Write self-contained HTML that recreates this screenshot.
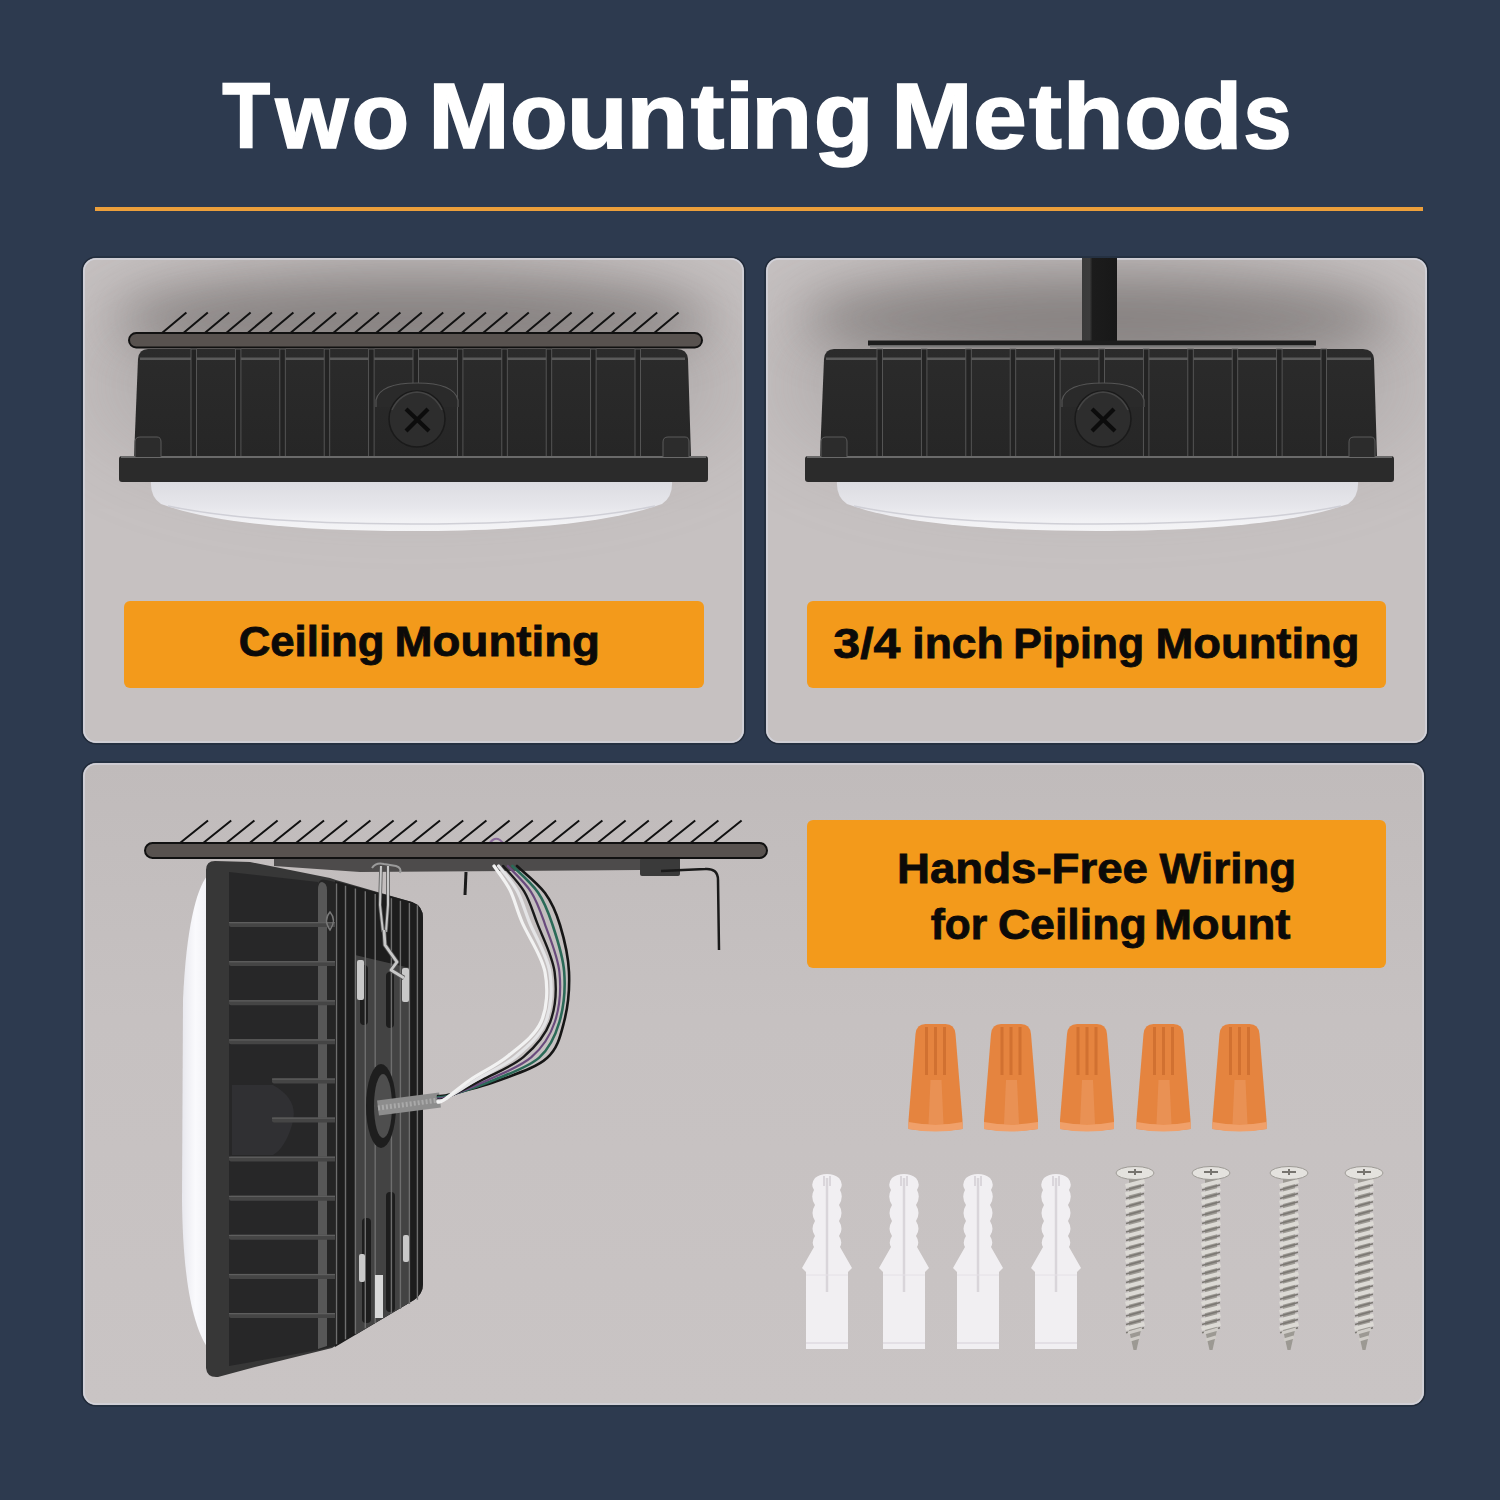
<!DOCTYPE html>
<html><head><meta charset="utf-8"><style>
html,body{margin:0;padding:0;background:#2d3a4f;width:1500px;height:1500px;overflow:hidden}
svg{display:block}
text{font-family:"Liberation Sans",sans-serif;font-weight:bold;font-kerning:none}
</style></head><body>
<svg width="1500" height="1500" viewBox="0 0 1500 1500">
<defs>
<radialGradient id="vig1" cx="0.5" cy="0.25" r="0.6">
<stop offset="0" stop-color="#8a8483"/>
<stop offset="0.45" stop-color="#a29d9c"/>
<stop offset="1" stop-color="#c5bfbf"/>
</radialGradient>
<linearGradient id="pan3" x1="0" y1="0" x2="0" y2="1">
<stop offset="0" stop-color="#c0bbbb"/>
<stop offset="0.4" stop-color="#c6c1c1"/>
<stop offset="1" stop-color="#c9c4c4"/>
</linearGradient>
<linearGradient id="diff" x1="0" y1="0" x2="0" y2="1">
<stop offset="0" stop-color="#dcdce1"/>
<stop offset="0.5" stop-color="#e6e6eb"/>
<stop offset="0.8" stop-color="#f1f1f4"/>
<stop offset="1" stop-color="#f4f4f6"/>
</linearGradient>
<linearGradient id="body" x1="0" y1="0" x2="0" y2="1">
<stop offset="0" stop-color="#2b2b2b"/>
<stop offset="1" stop-color="#262626"/>
</linearGradient>
<linearGradient id="pipe" x1="0" y1="0" x2="1" y2="0">
<stop offset="0" stop-color="#3a3a3a"/>
<stop offset="0.22" stop-color="#3c3c3c"/>
<stop offset="0.3" stop-color="#1c1c1c"/>
<stop offset="1" stop-color="#181818"/>
</linearGradient>
<linearGradient id="sidediff" x1="0" y1="0" x2="1" y2="0">
<stop offset="0" stop-color="#e8e8ee"/>
<stop offset="0.5" stop-color="#fafafd"/>
<stop offset="1" stop-color="#f0f0f4"/>
</linearGradient>
<filter id="blur2" x="-50%" y="-100%" width="200%" height="300%"><feGaussianBlur stdDeviation="26"/></filter>
<filter id="blur1" x="-50%" y="-50%" width="200%" height="200%"><feGaussianBlur stdDeviation="45"/></filter>
<clipPath id="cp1"><rect x="84" y="259" width="659" height="483" rx="12"/></clipPath>
<clipPath id="cp2"><rect x="767" y="259" width="659" height="483" rx="12"/></clipPath>
<clipPath id="finclip"><path d="M335,881 L412,902 Q423,906 423,918 L423,1284 Q423,1294 414,1300 L335,1347 Z"/></clipPath>
</defs>
<rect width="1500" height="1500" fill="#2d3a4f"/>
<!-- title -->
<g font-family="Liberation Sans" font-weight="bold" fill="#ffffff" stroke="#ffffff" stroke-width="1.6" font-size="93">
<text transform="translate(222.29,148) scale(0.8445,1)" >T</text>
<text transform="translate(275.58,148) scale(1.0055,1)" >w</text>
<text transform="translate(351.62,148) scale(1.0168,1)" >o</text>
<text transform="translate(428.30,148) scale(1.0506,1)" >M</text>
<text transform="translate(510.12,148) scale(1.0168,1)" >o</text>
<text transform="translate(566.66,148) scale(1.0750,1)" >u</text>
<text transform="translate(626.16,148) scale(1.0965,1)" >n</text>
<text transform="translate(690.63,148) scale(1.0891,1)" >t</text>
<text transform="translate(724.26,148) scale(1.1838,1)" >i</text>
<text transform="translate(751.27,148) scale(1.0750,1)" >n</text>
<text transform="translate(813.82,148) scale(1.0543,1)" >g</text>
<text transform="translate(891.30,148) scale(1.0506,1)" >M</text>
<text transform="translate(973.05,148) scale(1.0406,1)" >e</text>
<text transform="translate(1028.94,148) scale(1.0627,1)" >t</text>
<text transform="translate(1062.68,148) scale(1.0748,1)" >h</text>
<text transform="translate(1124.32,148) scale(1.0168,1)" >o</text>
<text transform="translate(1181.57,148) scale(1.0730,1)" >d</text>
<text transform="translate(1243.29,148) scale(0.9343,1)" >s</text>
</g>
<rect x="95" y="207" width="1328" height="4" fill="#ec9f3b"/>
<!-- panels -->
<rect x="82" y="257" width="663" height="487" rx="14" fill="none" stroke="#1f2836" stroke-width="1.2"/><rect x="83" y="258" width="661" height="485" rx="13" fill="#c6c1c1"/>
<rect x="765" y="257" width="663" height="487" rx="14" fill="none" stroke="#1f2836" stroke-width="1.2"/><rect x="766" y="258" width="661" height="485" rx="13" fill="#c6c1c1"/>
<g clip-path="url(#cp1)"><ellipse cx="413" cy="385" rx="330" ry="95" fill="#7a7474" opacity="0.28" filter="url(#blur1)"/><ellipse cx="413" cy="318" rx="300" ry="45" fill="#5a5453" opacity="0.5" filter="url(#blur2)"/></g>
<g clip-path="url(#cp2)"><ellipse cx="1099" cy="385" rx="330" ry="95" fill="#7a7474" opacity="0.28" filter="url(#blur1)"/><ellipse cx="1099" cy="318" rx="300" ry="45" fill="#5a5453" opacity="0.5" filter="url(#blur2)"/></g>
<rect x="82" y="762" width="1343" height="644" rx="14" fill="none" stroke="#1f2836" stroke-width="1.2"/><rect x="83" y="763" width="1341" height="642" rx="13" fill="url(#pan3)"/>
<rect x="84" y="259" width="659" height="483" rx="12" fill="none" stroke="#d2d2da" stroke-width="1.6"/>
<rect x="767" y="259" width="659" height="483" rx="12" fill="none" stroke="#d2d2da" stroke-width="1.6"/>
<rect x="84" y="764" width="1339" height="640" rx="12" fill="none" stroke="#d2d2da" stroke-width="1.6"/>
<!-- panel 1 -->
<path d="M162.0,333L186.4,312.5M183.4,333L207.8,312.5M204.8,333L229.2,312.5M226.2,333L250.6,312.5M247.6,333L272.0,312.5M269.0,333L293.4,312.5M290.4,333L314.8,312.5M311.8,333L336.2,312.5M333.2,333L357.6,312.5M354.6,333L379.0,312.5M376.0,333L400.4,312.5M397.4,333L421.8,312.5M418.8,333L443.2,312.5M440.2,333L464.6,312.5M461.6,333L486.0,312.5M483.0,333L507.4,312.5M504.4,333L528.8,312.5M525.8,333L550.2,312.5M547.2,333L571.6,312.5M568.6,333L593.0,312.5M590.0,333L614.4,312.5M611.4,333L635.8,312.5M632.8,333L657.2,312.5M654.2,333L678.6,312.5" stroke="#111" stroke-width="2" fill="none"/>
<g transform="translate(0,0)">
<path d="M151,481 L672,481 Q673,497 662,504 C610,523 520,531 411,531 C302,531 212,523 161,504 Q150,497 151,481 Z" fill="url(#diff)"/>
<path d="M168,506 C230,519 320,524 411,524 C502,524 592,519 655,506" fill="none" stroke="#cfcfd6" stroke-width="1.5"/>
<path d="M148,349 L677,349 Q687,349 688,359 L691,457 L134,457 L138,359 Q139,349 148,349 Z" fill="url(#body)"/>
<rect x="140" y="357.5" width="545" height="2.5" fill="#5a5a5a"/>
<rect x="191.0" y="349" width="5.5" height="108" fill="#232323" stroke="#5a5a5a" stroke-width="0.9"/><rect x="235.4" y="349" width="5.5" height="108" fill="#232323" stroke="#5a5a5a" stroke-width="0.9"/><rect x="279.8" y="349" width="5.5" height="108" fill="#232323" stroke="#5a5a5a" stroke-width="0.9"/><rect x="324.2" y="349" width="5.5" height="108" fill="#232323" stroke="#5a5a5a" stroke-width="0.9"/><rect x="368.6" y="349" width="5.5" height="108" fill="#232323" stroke="#5a5a5a" stroke-width="0.9"/><rect x="413.0" y="349" width="5.5" height="40" fill="#232323" stroke="#5a5a5a" stroke-width="0.9"/><rect x="457.4" y="349" width="5.5" height="108" fill="#232323" stroke="#5a5a5a" stroke-width="0.9"/><rect x="501.8" y="349" width="5.5" height="108" fill="#232323" stroke="#5a5a5a" stroke-width="0.9"/><rect x="546.2" y="349" width="5.5" height="108" fill="#232323" stroke="#5a5a5a" stroke-width="0.9"/><rect x="590.6" y="349" width="5.5" height="108" fill="#232323" stroke="#5a5a5a" stroke-width="0.9"/><rect x="635.0" y="349" width="5.5" height="108" fill="#232323" stroke="#5a5a5a" stroke-width="0.9"/>
<rect x="119" y="456" width="589" height="26" rx="3" fill="#2b2b2b"/>
<rect x="121" y="456" width="585" height="2" fill="#6a6a6a"/>
<path d="M135,457 L135,442 Q135,437 140,437 L157,437 Q161,437 161,442 L161,457" fill="#2c2c2c" stroke="#5a5a5a" stroke-width="1"/>
<path d="M663,457 L663,442 Q663,437 668,437 L685,437 Q689,437 689,442 L689,457" fill="#2c2c2c" stroke="#5a5a5a" stroke-width="1"/>
<path d="M376,407 L376,400 Q380,383 417,383 Q454,383 458,400 L458,407" fill="#2a2a2a" stroke="#555" stroke-width="1.2"/>
<circle cx="417" cy="419" r="28" fill="#2d2d2d" stroke="#1a1a1a" stroke-width="1.5"/>
<path d="M392,410 Q400,393 417,392 Q434,393 442,410" fill="none" stroke="#444" stroke-width="1.5"/>
<path d="M406,409 L429,431 M428,409 L406,431" stroke="#0c0c0c" stroke-width="4.2" stroke-linecap="butt"/>
</g>
<rect x="129" y="333" width="573" height="14.5" rx="7.2" fill="#58524f" stroke="#111" stroke-width="2"/>
<!-- panel 2 -->
<rect x="1082" y="258" width="35" height="86" fill="url(#pipe)"/>
<rect x="868" y="340.5" width="448" height="5" fill="#1d1d1d"/><rect x="870" y="345.5" width="444" height="2" fill="#7a7a7a"/>
<g transform="translate(686,0)">
<path d="M151,481 L672,481 Q673,497 662,504 C610,523 520,531 411,531 C302,531 212,523 161,504 Q150,497 151,481 Z" fill="url(#diff)"/>
<path d="M168,506 C230,519 320,524 411,524 C502,524 592,519 655,506" fill="none" stroke="#cfcfd6" stroke-width="1.5"/>
<path d="M148,349 L677,349 Q687,349 688,359 L691,457 L134,457 L138,359 Q139,349 148,349 Z" fill="url(#body)"/>
<rect x="140" y="357.5" width="545" height="2.5" fill="#5a5a5a"/>
<rect x="191.0" y="349" width="5.5" height="108" fill="#232323" stroke="#5a5a5a" stroke-width="0.9"/><rect x="235.4" y="349" width="5.5" height="108" fill="#232323" stroke="#5a5a5a" stroke-width="0.9"/><rect x="279.8" y="349" width="5.5" height="108" fill="#232323" stroke="#5a5a5a" stroke-width="0.9"/><rect x="324.2" y="349" width="5.5" height="108" fill="#232323" stroke="#5a5a5a" stroke-width="0.9"/><rect x="368.6" y="349" width="5.5" height="108" fill="#232323" stroke="#5a5a5a" stroke-width="0.9"/><rect x="413.0" y="349" width="5.5" height="40" fill="#232323" stroke="#5a5a5a" stroke-width="0.9"/><rect x="457.4" y="349" width="5.5" height="108" fill="#232323" stroke="#5a5a5a" stroke-width="0.9"/><rect x="501.8" y="349" width="5.5" height="108" fill="#232323" stroke="#5a5a5a" stroke-width="0.9"/><rect x="546.2" y="349" width="5.5" height="108" fill="#232323" stroke="#5a5a5a" stroke-width="0.9"/><rect x="590.6" y="349" width="5.5" height="108" fill="#232323" stroke="#5a5a5a" stroke-width="0.9"/><rect x="635.0" y="349" width="5.5" height="108" fill="#232323" stroke="#5a5a5a" stroke-width="0.9"/>
<rect x="119" y="456" width="589" height="26" rx="3" fill="#2b2b2b"/>
<rect x="121" y="456" width="585" height="2" fill="#6a6a6a"/>
<path d="M135,457 L135,442 Q135,437 140,437 L157,437 Q161,437 161,442 L161,457" fill="#2c2c2c" stroke="#5a5a5a" stroke-width="1"/>
<path d="M663,457 L663,442 Q663,437 668,437 L685,437 Q689,437 689,442 L689,457" fill="#2c2c2c" stroke="#5a5a5a" stroke-width="1"/>
<path d="M376,407 L376,400 Q380,383 417,383 Q454,383 458,400 L458,407" fill="#2a2a2a" stroke="#555" stroke-width="1.2"/>
<circle cx="417" cy="419" r="28" fill="#2d2d2d" stroke="#1a1a1a" stroke-width="1.5"/>
<path d="M392,410 Q400,393 417,392 Q434,393 442,410" fill="none" stroke="#444" stroke-width="1.5"/>
<path d="M406,409 L429,431 M428,409 L406,431" stroke="#0c0c0c" stroke-width="4.2" stroke-linecap="butt"/>
</g>
<!-- labels -->
<rect x="124" y="601" width="580" height="87" rx="6" fill="#f39a1b"/>
<rect x="807" y="601" width="579" height="87" rx="6" fill="#f39a1b"/>
<rect x="807" y="820" width="579" height="148" rx="6" fill="#f39a1b"/>
<g font-family="Liberation Sans" font-weight="bold" fill="#0c0a08" stroke="#0c0a08" stroke-width="0.8" font-size="42">
<text transform="translate(238.72,655.5) scale(1.0413,1)" >Ceiling</text>
<text transform="translate(394.58,655.5) scale(1.0875,1)" >Mounting</text>
<text transform="translate(833.35,658.2) scale(1.1483,1)" >3/4</text>
<text transform="translate(912.32,658.2) scale(1.0588,1)" >inch</text>
<text transform="translate(1013.34,658.2) scale(1.0203,1)" >Piping</text>
<text transform="translate(1155.40,658.2) scale(1.0809,1)" >Mounting</text>
<text transform="translate(896.98,883.4) scale(1.0865,1)" >Hands-Free</text>
<text transform="translate(1159.57,883.4) scale(1.0445,1)" >Wiring</text>
<text transform="translate(930.68,939.2) scale(1.0102,1)" >for</text>
<text transform="translate(997.89,939.2) scale(1.0633,1)" >Ceiling</text>
<text transform="translate(1153.89,939.2) scale(1.0849,1)" >Mount</text>
</g>
<!-- panel 3 hardware -->
<g>
<path d="M915.5,1034 Q916.5,1024 925.5,1024 L945.5,1024 Q954.5,1024 955.5,1034 L962.5,1120 L962.5,1129 Q935.5,1133 908.5,1129 L908.5,1120 Z" fill="#e5843f"/>
<path d="M926.5,1027 L926.5,1075 M935.5,1027 L935.5,1075 M944.5,1027 L944.5,1075" stroke="#c96a2c" stroke-width="3" fill="none" opacity="0.7"/>
<path d="M930.5,1080 L941.5,1080 L943.5,1124 L928.5,1124 Z" fill="#eb9a63" opacity="0.6"/>
<path d="M908.5,1122 Q935.5,1127 962.5,1122 L962.5,1129 Q935.5,1134 908.5,1129 Z" fill="#f0a06a"/>
</g><g>
<path d="M991,1034 Q992,1024 1001,1024 L1021,1024 Q1030,1024 1031,1034 L1038,1120 L1038,1129 Q1011,1133 984,1129 L984,1120 Z" fill="#e5843f"/>
<path d="M1002,1027 L1002,1075 M1011,1027 L1011,1075 M1020,1027 L1020,1075" stroke="#c96a2c" stroke-width="3" fill="none" opacity="0.7"/>
<path d="M1006,1080 L1017,1080 L1019,1124 L1004,1124 Z" fill="#eb9a63" opacity="0.6"/>
<path d="M984,1122 Q1011,1127 1038,1122 L1038,1129 Q1011,1134 984,1129 Z" fill="#f0a06a"/>
</g><g>
<path d="M1067,1034 Q1068,1024 1077,1024 L1097,1024 Q1106,1024 1107,1034 L1114,1120 L1114,1129 Q1087,1133 1060,1129 L1060,1120 Z" fill="#e5843f"/>
<path d="M1078,1027 L1078,1075 M1087,1027 L1087,1075 M1096,1027 L1096,1075" stroke="#c96a2c" stroke-width="3" fill="none" opacity="0.7"/>
<path d="M1082,1080 L1093,1080 L1095,1124 L1080,1124 Z" fill="#eb9a63" opacity="0.6"/>
<path d="M1060,1122 Q1087,1127 1114,1122 L1114,1129 Q1087,1134 1060,1129 Z" fill="#f0a06a"/>
</g><g>
<path d="M1143.5,1034 Q1144.5,1024 1153.5,1024 L1173.5,1024 Q1182.5,1024 1183.5,1034 L1190.5,1120 L1190.5,1129 Q1163.5,1133 1136.5,1129 L1136.5,1120 Z" fill="#e5843f"/>
<path d="M1154.5,1027 L1154.5,1075 M1163.5,1027 L1163.5,1075 M1172.5,1027 L1172.5,1075" stroke="#c96a2c" stroke-width="3" fill="none" opacity="0.7"/>
<path d="M1158.5,1080 L1169.5,1080 L1171.5,1124 L1156.5,1124 Z" fill="#eb9a63" opacity="0.6"/>
<path d="M1136.5,1122 Q1163.5,1127 1190.5,1122 L1190.5,1129 Q1163.5,1134 1136.5,1129 Z" fill="#f0a06a"/>
</g><g>
<path d="M1219.5,1034 Q1220.5,1024 1229.5,1024 L1249.5,1024 Q1258.5,1024 1259.5,1034 L1266.5,1120 L1266.5,1129 Q1239.5,1133 1212.5,1129 L1212.5,1120 Z" fill="#e5843f"/>
<path d="M1230.5,1027 L1230.5,1075 M1239.5,1027 L1239.5,1075 M1248.5,1027 L1248.5,1075" stroke="#c96a2c" stroke-width="3" fill="none" opacity="0.7"/>
<path d="M1234.5,1080 L1245.5,1080 L1247.5,1124 L1232.5,1124 Z" fill="#eb9a63" opacity="0.6"/>
<path d="M1212.5,1122 Q1239.5,1127 1266.5,1122 L1266.5,1129 Q1239.5,1134 1212.5,1129 Z" fill="#f0a06a"/>
</g>
<g>
<path d="M806,1349 L806,1272 L802,1268 L814,1247 Q811,1242 815,1236 Q810,1229 815,1221 Q810,1213 815,1205 Q810,1197 814,1190 Q810,1184 815,1178 Q820,1174 827,1174 Q834,1174 839,1178 Q844,1184 840,1190 Q844,1197 839,1205 Q844,1213 839,1221 Q844,1229 839,1236 Q843,1242 840,1247 L852,1268 L848,1272 L848,1349 Z" fill="#f1eff2"/>
<path d="M827,1178 L827,1292" stroke="#d9d5da" stroke-width="2.5"/>
<path d="M824,1176 L824,1186 M830,1176 L830,1186" stroke="#d2ced3" stroke-width="1.5"/>
<path d="M806,1343 L848,1343" stroke="#dedae0" stroke-width="1.5"/>
<path d="M806,1275 L848,1275" stroke="#e4e0e6" stroke-width="1"/>
</g><g>
<path d="M883,1349 L883,1272 L879,1268 L891,1247 Q888,1242 892,1236 Q887,1229 892,1221 Q887,1213 892,1205 Q887,1197 891,1190 Q887,1184 892,1178 Q897,1174 904,1174 Q911,1174 916,1178 Q921,1184 917,1190 Q921,1197 916,1205 Q921,1213 916,1221 Q921,1229 916,1236 Q920,1242 917,1247 L929,1268 L925,1272 L925,1349 Z" fill="#f1eff2"/>
<path d="M904,1178 L904,1292" stroke="#d9d5da" stroke-width="2.5"/>
<path d="M901,1176 L901,1186 M907,1176 L907,1186" stroke="#d2ced3" stroke-width="1.5"/>
<path d="M883,1343 L925,1343" stroke="#dedae0" stroke-width="1.5"/>
<path d="M883,1275 L925,1275" stroke="#e4e0e6" stroke-width="1"/>
</g><g>
<path d="M957,1349 L957,1272 L953,1268 L965,1247 Q962,1242 966,1236 Q961,1229 966,1221 Q961,1213 966,1205 Q961,1197 965,1190 Q961,1184 966,1178 Q971,1174 978,1174 Q985,1174 990,1178 Q995,1184 991,1190 Q995,1197 990,1205 Q995,1213 990,1221 Q995,1229 990,1236 Q994,1242 991,1247 L1003,1268 L999,1272 L999,1349 Z" fill="#f1eff2"/>
<path d="M978,1178 L978,1292" stroke="#d9d5da" stroke-width="2.5"/>
<path d="M975,1176 L975,1186 M981,1176 L981,1186" stroke="#d2ced3" stroke-width="1.5"/>
<path d="M957,1343 L999,1343" stroke="#dedae0" stroke-width="1.5"/>
<path d="M957,1275 L999,1275" stroke="#e4e0e6" stroke-width="1"/>
</g><g>
<path d="M1035,1349 L1035,1272 L1031,1268 L1043,1247 Q1040,1242 1044,1236 Q1039,1229 1044,1221 Q1039,1213 1044,1205 Q1039,1197 1043,1190 Q1039,1184 1044,1178 Q1049,1174 1056,1174 Q1063,1174 1068,1178 Q1073,1184 1069,1190 Q1073,1197 1068,1205 Q1073,1213 1068,1221 Q1073,1229 1068,1236 Q1072,1242 1069,1247 L1081,1268 L1077,1272 L1077,1349 Z" fill="#f1eff2"/>
<path d="M1056,1178 L1056,1292" stroke="#d9d5da" stroke-width="2.5"/>
<path d="M1053,1176 L1053,1186 M1059,1176 L1059,1186" stroke="#d2ced3" stroke-width="1.5"/>
<path d="M1035,1343 L1077,1343" stroke="#dedae0" stroke-width="1.5"/>
<path d="M1035,1275 L1077,1275" stroke="#e4e0e6" stroke-width="1"/>
</g>
<g>
<path d="M1129,1178 L1141,1178 L1141,1330 L1136.5,1350 L1133.5,1350 L1129,1330 Z" fill="#9c9993"/>
<path d="M1125.5,1186.0 L1144.5,1181.0" stroke="#dcdad5" stroke-width="4"/><path d="M1126,1190.0 L1144,1185.0" stroke="#7b7873" stroke-width="1.6"/><path d="M1125.5,1194.4 L1144.5,1189.4" stroke="#dcdad5" stroke-width="4"/><path d="M1126,1198.4 L1144,1193.4" stroke="#7b7873" stroke-width="1.6"/><path d="M1125.5,1202.8 L1144.5,1197.8" stroke="#dcdad5" stroke-width="4"/><path d="M1126,1206.8 L1144,1201.8" stroke="#7b7873" stroke-width="1.6"/><path d="M1125.5,1211.2 L1144.5,1206.2" stroke="#dcdad5" stroke-width="4"/><path d="M1126,1215.2 L1144,1210.2" stroke="#7b7873" stroke-width="1.6"/><path d="M1125.5,1219.6 L1144.5,1214.6" stroke="#dcdad5" stroke-width="4"/><path d="M1126,1223.6 L1144,1218.6" stroke="#7b7873" stroke-width="1.6"/><path d="M1125.5,1228.0 L1144.5,1223.0" stroke="#dcdad5" stroke-width="4"/><path d="M1126,1232.0 L1144,1227.0" stroke="#7b7873" stroke-width="1.6"/><path d="M1125.5,1236.4 L1144.5,1231.4" stroke="#dcdad5" stroke-width="4"/><path d="M1126,1240.4 L1144,1235.4" stroke="#7b7873" stroke-width="1.6"/><path d="M1125.5,1244.8 L1144.5,1239.8" stroke="#dcdad5" stroke-width="4"/><path d="M1126,1248.8 L1144,1243.8" stroke="#7b7873" stroke-width="1.6"/><path d="M1125.5,1253.2 L1144.5,1248.2" stroke="#dcdad5" stroke-width="4"/><path d="M1126,1257.2 L1144,1252.2" stroke="#7b7873" stroke-width="1.6"/><path d="M1125.5,1261.6 L1144.5,1256.6" stroke="#dcdad5" stroke-width="4"/><path d="M1126,1265.6 L1144,1260.6" stroke="#7b7873" stroke-width="1.6"/><path d="M1125.5,1270.0 L1144.5,1265.0" stroke="#dcdad5" stroke-width="4"/><path d="M1126,1274.0 L1144,1269.0" stroke="#7b7873" stroke-width="1.6"/><path d="M1125.5,1278.4 L1144.5,1273.4" stroke="#dcdad5" stroke-width="4"/><path d="M1126,1282.4 L1144,1277.4" stroke="#7b7873" stroke-width="1.6"/><path d="M1125.5,1286.8 L1144.5,1281.8" stroke="#dcdad5" stroke-width="4"/><path d="M1126,1290.8 L1144,1285.8" stroke="#7b7873" stroke-width="1.6"/><path d="M1125.5,1295.2 L1144.5,1290.2" stroke="#dcdad5" stroke-width="4"/><path d="M1126,1299.2 L1144,1294.2" stroke="#7b7873" stroke-width="1.6"/><path d="M1125.5,1303.6 L1144.5,1298.6" stroke="#dcdad5" stroke-width="4"/><path d="M1126,1307.6 L1144,1302.6" stroke="#7b7873" stroke-width="1.6"/><path d="M1125.5,1312.0 L1144.5,1307.0" stroke="#dcdad5" stroke-width="4"/><path d="M1126,1316.0 L1144,1311.0" stroke="#7b7873" stroke-width="1.6"/><path d="M1125.5,1320.4 L1144.5,1315.4" stroke="#dcdad5" stroke-width="4"/><path d="M1126,1324.4 L1144,1319.4" stroke="#7b7873" stroke-width="1.6"/><path d="M1125.5,1328.8 L1144.5,1323.8" stroke="#dcdad5" stroke-width="4"/><path d="M1126,1332.8 L1144,1327.8" stroke="#7b7873" stroke-width="1.6"/>
<path d="M1128,1333 L1142,1329 M1130,1340 L1140,1337" stroke="#cfccc7" stroke-width="3"/>
<ellipse cx="1135" cy="1173" rx="19" ry="6.5" fill="#e4e2de" stroke="#9e9b96" stroke-width="1"/>
<path d="M1128,1172 L1142,1172 M1135,1169 L1135,1175" stroke="#77746f" stroke-width="2"/>
</g><g>
<path d="M1205,1178 L1217,1178 L1217,1330 L1212.5,1350 L1209.5,1350 L1205,1330 Z" fill="#9c9993"/>
<path d="M1201.5,1186.0 L1220.5,1181.0" stroke="#dcdad5" stroke-width="4"/><path d="M1202,1190.0 L1220,1185.0" stroke="#7b7873" stroke-width="1.6"/><path d="M1201.5,1194.4 L1220.5,1189.4" stroke="#dcdad5" stroke-width="4"/><path d="M1202,1198.4 L1220,1193.4" stroke="#7b7873" stroke-width="1.6"/><path d="M1201.5,1202.8 L1220.5,1197.8" stroke="#dcdad5" stroke-width="4"/><path d="M1202,1206.8 L1220,1201.8" stroke="#7b7873" stroke-width="1.6"/><path d="M1201.5,1211.2 L1220.5,1206.2" stroke="#dcdad5" stroke-width="4"/><path d="M1202,1215.2 L1220,1210.2" stroke="#7b7873" stroke-width="1.6"/><path d="M1201.5,1219.6 L1220.5,1214.6" stroke="#dcdad5" stroke-width="4"/><path d="M1202,1223.6 L1220,1218.6" stroke="#7b7873" stroke-width="1.6"/><path d="M1201.5,1228.0 L1220.5,1223.0" stroke="#dcdad5" stroke-width="4"/><path d="M1202,1232.0 L1220,1227.0" stroke="#7b7873" stroke-width="1.6"/><path d="M1201.5,1236.4 L1220.5,1231.4" stroke="#dcdad5" stroke-width="4"/><path d="M1202,1240.4 L1220,1235.4" stroke="#7b7873" stroke-width="1.6"/><path d="M1201.5,1244.8 L1220.5,1239.8" stroke="#dcdad5" stroke-width="4"/><path d="M1202,1248.8 L1220,1243.8" stroke="#7b7873" stroke-width="1.6"/><path d="M1201.5,1253.2 L1220.5,1248.2" stroke="#dcdad5" stroke-width="4"/><path d="M1202,1257.2 L1220,1252.2" stroke="#7b7873" stroke-width="1.6"/><path d="M1201.5,1261.6 L1220.5,1256.6" stroke="#dcdad5" stroke-width="4"/><path d="M1202,1265.6 L1220,1260.6" stroke="#7b7873" stroke-width="1.6"/><path d="M1201.5,1270.0 L1220.5,1265.0" stroke="#dcdad5" stroke-width="4"/><path d="M1202,1274.0 L1220,1269.0" stroke="#7b7873" stroke-width="1.6"/><path d="M1201.5,1278.4 L1220.5,1273.4" stroke="#dcdad5" stroke-width="4"/><path d="M1202,1282.4 L1220,1277.4" stroke="#7b7873" stroke-width="1.6"/><path d="M1201.5,1286.8 L1220.5,1281.8" stroke="#dcdad5" stroke-width="4"/><path d="M1202,1290.8 L1220,1285.8" stroke="#7b7873" stroke-width="1.6"/><path d="M1201.5,1295.2 L1220.5,1290.2" stroke="#dcdad5" stroke-width="4"/><path d="M1202,1299.2 L1220,1294.2" stroke="#7b7873" stroke-width="1.6"/><path d="M1201.5,1303.6 L1220.5,1298.6" stroke="#dcdad5" stroke-width="4"/><path d="M1202,1307.6 L1220,1302.6" stroke="#7b7873" stroke-width="1.6"/><path d="M1201.5,1312.0 L1220.5,1307.0" stroke="#dcdad5" stroke-width="4"/><path d="M1202,1316.0 L1220,1311.0" stroke="#7b7873" stroke-width="1.6"/><path d="M1201.5,1320.4 L1220.5,1315.4" stroke="#dcdad5" stroke-width="4"/><path d="M1202,1324.4 L1220,1319.4" stroke="#7b7873" stroke-width="1.6"/><path d="M1201.5,1328.8 L1220.5,1323.8" stroke="#dcdad5" stroke-width="4"/><path d="M1202,1332.8 L1220,1327.8" stroke="#7b7873" stroke-width="1.6"/>
<path d="M1204,1333 L1218,1329 M1206,1340 L1216,1337" stroke="#cfccc7" stroke-width="3"/>
<ellipse cx="1211" cy="1173" rx="19" ry="6.5" fill="#e4e2de" stroke="#9e9b96" stroke-width="1"/>
<path d="M1204,1172 L1218,1172 M1211,1169 L1211,1175" stroke="#77746f" stroke-width="2"/>
</g><g>
<path d="M1283,1178 L1295,1178 L1295,1330 L1290.5,1350 L1287.5,1350 L1283,1330 Z" fill="#9c9993"/>
<path d="M1279.5,1186.0 L1298.5,1181.0" stroke="#dcdad5" stroke-width="4"/><path d="M1280,1190.0 L1298,1185.0" stroke="#7b7873" stroke-width="1.6"/><path d="M1279.5,1194.4 L1298.5,1189.4" stroke="#dcdad5" stroke-width="4"/><path d="M1280,1198.4 L1298,1193.4" stroke="#7b7873" stroke-width="1.6"/><path d="M1279.5,1202.8 L1298.5,1197.8" stroke="#dcdad5" stroke-width="4"/><path d="M1280,1206.8 L1298,1201.8" stroke="#7b7873" stroke-width="1.6"/><path d="M1279.5,1211.2 L1298.5,1206.2" stroke="#dcdad5" stroke-width="4"/><path d="M1280,1215.2 L1298,1210.2" stroke="#7b7873" stroke-width="1.6"/><path d="M1279.5,1219.6 L1298.5,1214.6" stroke="#dcdad5" stroke-width="4"/><path d="M1280,1223.6 L1298,1218.6" stroke="#7b7873" stroke-width="1.6"/><path d="M1279.5,1228.0 L1298.5,1223.0" stroke="#dcdad5" stroke-width="4"/><path d="M1280,1232.0 L1298,1227.0" stroke="#7b7873" stroke-width="1.6"/><path d="M1279.5,1236.4 L1298.5,1231.4" stroke="#dcdad5" stroke-width="4"/><path d="M1280,1240.4 L1298,1235.4" stroke="#7b7873" stroke-width="1.6"/><path d="M1279.5,1244.8 L1298.5,1239.8" stroke="#dcdad5" stroke-width="4"/><path d="M1280,1248.8 L1298,1243.8" stroke="#7b7873" stroke-width="1.6"/><path d="M1279.5,1253.2 L1298.5,1248.2" stroke="#dcdad5" stroke-width="4"/><path d="M1280,1257.2 L1298,1252.2" stroke="#7b7873" stroke-width="1.6"/><path d="M1279.5,1261.6 L1298.5,1256.6" stroke="#dcdad5" stroke-width="4"/><path d="M1280,1265.6 L1298,1260.6" stroke="#7b7873" stroke-width="1.6"/><path d="M1279.5,1270.0 L1298.5,1265.0" stroke="#dcdad5" stroke-width="4"/><path d="M1280,1274.0 L1298,1269.0" stroke="#7b7873" stroke-width="1.6"/><path d="M1279.5,1278.4 L1298.5,1273.4" stroke="#dcdad5" stroke-width="4"/><path d="M1280,1282.4 L1298,1277.4" stroke="#7b7873" stroke-width="1.6"/><path d="M1279.5,1286.8 L1298.5,1281.8" stroke="#dcdad5" stroke-width="4"/><path d="M1280,1290.8 L1298,1285.8" stroke="#7b7873" stroke-width="1.6"/><path d="M1279.5,1295.2 L1298.5,1290.2" stroke="#dcdad5" stroke-width="4"/><path d="M1280,1299.2 L1298,1294.2" stroke="#7b7873" stroke-width="1.6"/><path d="M1279.5,1303.6 L1298.5,1298.6" stroke="#dcdad5" stroke-width="4"/><path d="M1280,1307.6 L1298,1302.6" stroke="#7b7873" stroke-width="1.6"/><path d="M1279.5,1312.0 L1298.5,1307.0" stroke="#dcdad5" stroke-width="4"/><path d="M1280,1316.0 L1298,1311.0" stroke="#7b7873" stroke-width="1.6"/><path d="M1279.5,1320.4 L1298.5,1315.4" stroke="#dcdad5" stroke-width="4"/><path d="M1280,1324.4 L1298,1319.4" stroke="#7b7873" stroke-width="1.6"/><path d="M1279.5,1328.8 L1298.5,1323.8" stroke="#dcdad5" stroke-width="4"/><path d="M1280,1332.8 L1298,1327.8" stroke="#7b7873" stroke-width="1.6"/>
<path d="M1282,1333 L1296,1329 M1284,1340 L1294,1337" stroke="#cfccc7" stroke-width="3"/>
<ellipse cx="1289" cy="1173" rx="19" ry="6.5" fill="#e4e2de" stroke="#9e9b96" stroke-width="1"/>
<path d="M1282,1172 L1296,1172 M1289,1169 L1289,1175" stroke="#77746f" stroke-width="2"/>
</g><g>
<path d="M1358,1178 L1370,1178 L1370,1330 L1365.5,1350 L1362.5,1350 L1358,1330 Z" fill="#9c9993"/>
<path d="M1354.5,1186.0 L1373.5,1181.0" stroke="#dcdad5" stroke-width="4"/><path d="M1355,1190.0 L1373,1185.0" stroke="#7b7873" stroke-width="1.6"/><path d="M1354.5,1194.4 L1373.5,1189.4" stroke="#dcdad5" stroke-width="4"/><path d="M1355,1198.4 L1373,1193.4" stroke="#7b7873" stroke-width="1.6"/><path d="M1354.5,1202.8 L1373.5,1197.8" stroke="#dcdad5" stroke-width="4"/><path d="M1355,1206.8 L1373,1201.8" stroke="#7b7873" stroke-width="1.6"/><path d="M1354.5,1211.2 L1373.5,1206.2" stroke="#dcdad5" stroke-width="4"/><path d="M1355,1215.2 L1373,1210.2" stroke="#7b7873" stroke-width="1.6"/><path d="M1354.5,1219.6 L1373.5,1214.6" stroke="#dcdad5" stroke-width="4"/><path d="M1355,1223.6 L1373,1218.6" stroke="#7b7873" stroke-width="1.6"/><path d="M1354.5,1228.0 L1373.5,1223.0" stroke="#dcdad5" stroke-width="4"/><path d="M1355,1232.0 L1373,1227.0" stroke="#7b7873" stroke-width="1.6"/><path d="M1354.5,1236.4 L1373.5,1231.4" stroke="#dcdad5" stroke-width="4"/><path d="M1355,1240.4 L1373,1235.4" stroke="#7b7873" stroke-width="1.6"/><path d="M1354.5,1244.8 L1373.5,1239.8" stroke="#dcdad5" stroke-width="4"/><path d="M1355,1248.8 L1373,1243.8" stroke="#7b7873" stroke-width="1.6"/><path d="M1354.5,1253.2 L1373.5,1248.2" stroke="#dcdad5" stroke-width="4"/><path d="M1355,1257.2 L1373,1252.2" stroke="#7b7873" stroke-width="1.6"/><path d="M1354.5,1261.6 L1373.5,1256.6" stroke="#dcdad5" stroke-width="4"/><path d="M1355,1265.6 L1373,1260.6" stroke="#7b7873" stroke-width="1.6"/><path d="M1354.5,1270.0 L1373.5,1265.0" stroke="#dcdad5" stroke-width="4"/><path d="M1355,1274.0 L1373,1269.0" stroke="#7b7873" stroke-width="1.6"/><path d="M1354.5,1278.4 L1373.5,1273.4" stroke="#dcdad5" stroke-width="4"/><path d="M1355,1282.4 L1373,1277.4" stroke="#7b7873" stroke-width="1.6"/><path d="M1354.5,1286.8 L1373.5,1281.8" stroke="#dcdad5" stroke-width="4"/><path d="M1355,1290.8 L1373,1285.8" stroke="#7b7873" stroke-width="1.6"/><path d="M1354.5,1295.2 L1373.5,1290.2" stroke="#dcdad5" stroke-width="4"/><path d="M1355,1299.2 L1373,1294.2" stroke="#7b7873" stroke-width="1.6"/><path d="M1354.5,1303.6 L1373.5,1298.6" stroke="#dcdad5" stroke-width="4"/><path d="M1355,1307.6 L1373,1302.6" stroke="#7b7873" stroke-width="1.6"/><path d="M1354.5,1312.0 L1373.5,1307.0" stroke="#dcdad5" stroke-width="4"/><path d="M1355,1316.0 L1373,1311.0" stroke="#7b7873" stroke-width="1.6"/><path d="M1354.5,1320.4 L1373.5,1315.4" stroke="#dcdad5" stroke-width="4"/><path d="M1355,1324.4 L1373,1319.4" stroke="#7b7873" stroke-width="1.6"/><path d="M1354.5,1328.8 L1373.5,1323.8" stroke="#dcdad5" stroke-width="4"/><path d="M1355,1332.8 L1373,1327.8" stroke="#7b7873" stroke-width="1.6"/>
<path d="M1357,1333 L1371,1329 M1359,1340 L1369,1337" stroke="#cfccc7" stroke-width="3"/>
<ellipse cx="1364" cy="1173" rx="19" ry="6.5" fill="#e4e2de" stroke="#9e9b96" stroke-width="1"/>
<path d="M1357,1172 L1371,1172 M1364,1169 L1364,1175" stroke="#77746f" stroke-width="2"/>
</g>
<!-- panel 3 lamp -->
<path d="M180.0,843L208.0,820.5M203.2,843L231.2,820.5M226.4,843L254.4,820.5M249.6,843L277.6,820.5M272.8,843L300.8,820.5M296.0,843L324.0,820.5M319.2,843L347.2,820.5M342.4,843L370.4,820.5M365.6,843L393.6,820.5M388.8,843L416.8,820.5M412.0,843L440.0,820.5M435.2,843L463.2,820.5M458.4,843L486.4,820.5M481.6,843L509.6,820.5M504.8,843L532.8,820.5M528.0,843L556.0,820.5M551.2,843L579.2,820.5M574.4,843L602.4,820.5M597.6,843L625.6,820.5M620.8,843L648.8,820.5M644.0,843L672.0,820.5M667.2,843L695.2,820.5M690.4,843L718.4,820.5M713.6,843L741.6,820.5" stroke="#111" stroke-width="2" fill="none"/>
<path d="M274,857 L680,857 L680,868 L640,870 L360,872 L274,866 Z" fill="#4d4b4b"/><rect x="640" y="858" width="40" height="18" rx="2" fill="#3a3a3a"/>
<path d="M661,871 L705,869 Q718,868 718,880 L719,950" stroke="#1a1a1a" stroke-width="2.5" fill="none"/>
<path d="M466,872 L465,895" stroke="#1a1a1a" stroke-width="3"/>
<path d="M207,876 C196,890 186,930 183,1000 L182,1200 C183,1290 195,1330 209,1350 Z" fill="url(#sidediff)"/>
<path d="M206,870 Q206,861 215,861 L250,862 L330,878 L336,880 L412,902 Q423,906 423,918 L423,1284 Q423,1294 414,1300 L332,1348 L255,1367 L218,1377 Q207,1378 206,1368 Z" fill="#373737"/>
<path d="M229,872 L318,882 L318,1350 L229,1366 Z" fill="#272728"/><path d="M273,1085 Q300,1100 292,1125 Q285,1148 273,1155 L232,1155 L232,1085 Z" fill="#303033"/>
<path d="M318,884 Q320,878 326,880 L335,882 L335,1346 L318,1350 Z" fill="#252525"/><path d="M318,890 Q318,882 322,882 Q327,883 327,890 L327,1346 L318,1349 Z" fill="#575757"/>
<rect x="229" y="922.0" width="108" height="5" rx="2" fill="#454545"/><rect x="229" y="922.0" width="106" height="1.3" fill="#5e5e5e"/><rect x="229" y="961.1" width="108" height="5" rx="2" fill="#454545"/><rect x="229" y="961.1" width="106" height="1.3" fill="#5e5e5e"/><rect x="229" y="1000.2" width="108" height="5" rx="2" fill="#454545"/><rect x="229" y="1000.2" width="106" height="1.3" fill="#5e5e5e"/><rect x="229" y="1039.3" width="108" height="5" rx="2" fill="#454545"/><rect x="229" y="1039.3" width="106" height="1.3" fill="#5e5e5e"/><rect x="272" y="1078.4" width="65" height="5" rx="2" fill="#454545"/><rect x="272" y="1078.4" width="63" height="1.3" fill="#5e5e5e"/><rect x="272" y="1117.5" width="65" height="5" rx="2" fill="#454545"/><rect x="272" y="1117.5" width="63" height="1.3" fill="#5e5e5e"/><rect x="229" y="1156.6" width="108" height="5" rx="2" fill="#454545"/><rect x="229" y="1156.6" width="106" height="1.3" fill="#5e5e5e"/><rect x="229" y="1195.7" width="108" height="5" rx="2" fill="#454545"/><rect x="229" y="1195.7" width="106" height="1.3" fill="#5e5e5e"/><rect x="229" y="1234.8" width="108" height="5" rx="2" fill="#454545"/><rect x="229" y="1234.8" width="106" height="1.3" fill="#5e5e5e"/><rect x="229" y="1273.9" width="108" height="5" rx="2" fill="#454545"/><rect x="229" y="1273.9" width="106" height="1.3" fill="#5e5e5e"/><rect x="229" y="1313.0" width="108" height="5" rx="2" fill="#454545"/><rect x="229" y="1313.0" width="106" height="1.3" fill="#5e5e5e"/>
<path d="M335,881 L412,902 Q423,906 423,918 L423,1284 Q423,1294 414,1300 L335,1347 Z" fill="#1d1d1d"/>
<g clip-path="url(#finclip)"><path d="M355,955 L410,968 L410,1330 L355,1345 Z" fill="#434343"/>
<rect x="360" y="965" width="8" height="60" rx="4" fill="#1d1d1d"/>
<rect x="386" y="972" width="8" height="56" rx="4" fill="#1d1d1d"/>
<rect x="362" y="1218" width="9" height="105" rx="4" fill="#1d1d1d"/>
<rect x="386" y="1192" width="9" height="120" rx="4" fill="#1d1d1d"/></g>
<path d="M336.5,883.4 L336.5,1344.2" stroke="#6e6e6e" stroke-width="1.4"/><path d="M345.5,885.8 L345.5,1339.2" stroke="#6e6e6e" stroke-width="1.4"/><path d="M355.4,888.5 L355.4,1333.8" stroke="#6e6e6e" stroke-width="1.4"/><path d="M365.3,891.2 L365.3,1328.3" stroke="#6e6e6e" stroke-width="1.4"/><path d="M375.2,893.9 L375.2,1322.9" stroke="#6e6e6e" stroke-width="1.4"/><path d="M391.4,898.2 L391.4,1314.0" stroke="#6e6e6e" stroke-width="1.4"/><path d="M400.4,900.7 L400.4,1309.0" stroke="#6e6e6e" stroke-width="1.4"/><path d="M409.4,903.1 L409.4,1304.1" stroke="#6e6e6e" stroke-width="1.4"/><path d="M417.4,905.2 L417.4,1299.7" stroke="#6e6e6e" stroke-width="1.4"/>
<rect x="357" y="960" width="7" height="40" rx="2" fill="#c9c9c9"/>
<rect x="402" y="968" width="7" height="34" rx="2" fill="#c9c9c9"/>
<rect x="359" y="1254" width="6" height="28" rx="2" fill="#c9c9c9"/>
<rect x="403" y="1235" width="6" height="27" rx="2" fill="#c9c9c9"/>
<rect x="375" y="1275" width="8" height="43" fill="#d8d8d8"/>
<path d="M330,912 Q337,920 330,930 Q323,920 330,912 Z" fill="none" stroke="#777" stroke-width="1.5"/>
<ellipse cx="381" cy="1106" rx="15" ry="42" fill="#1e1e1e"/>
<ellipse cx="383" cy="1106" rx="9" ry="32" fill="#4e4e4e"/>
<path d="M378,1108 L440,1100" stroke="#8d8d8d" stroke-width="15"/>
<path d="M378,1108 L440,1100" stroke="#a9a9a9" stroke-width="5" stroke-dasharray="2 2"/>
<g fill="none" stroke-linecap="round">
<path d="M517.0,866.0 C521.7,870.5 537.8,883.2 545.0,893.0 C552.2,902.8 556.0,911.8 560.0,925.0 C564.0,938.2 568.3,955.8 569.0,972.0 C569.7,988.2 567.7,1007.7 564.0,1022.0 C560.3,1036.3 557.7,1048.3 547.0,1058.0 C536.3,1067.7 515.8,1074.0 500.0,1080.0 C484.2,1086.0 462.3,1091.3 452.0,1094.0 C441.7,1096.7 440.3,1095.7 438.0,1096.0" stroke="#161616" stroke-width="2.6"/>
<path d="M512.4,866.0 C516.7,870.4 531.3,882.7 538.0,892.4 C544.7,902.1 548.0,911.1 552.4,924.4 C556.8,937.7 563.0,955.7 564.2,972.0 C565.4,988.3 563.6,1007.7 559.4,1022.0 C555.2,1036.3 550.1,1047.9 539.2,1057.6 C528.3,1067.3 508.8,1073.7 494.0,1080.0 C479.2,1086.3 459.7,1092.3 450.4,1095.2 C441.1,1098.1 440.1,1096.9 438.0,1097.2" stroke="#2b6a58" stroke-width="2.6"/>
<path d="M507.8,866.0 C511.7,870.3 524.8,882.2 531.0,891.8 C537.2,901.4 540.1,910.4 544.8,923.8 C549.5,937.2 557.7,955.6 559.4,972.0 C561.1,988.4 559.5,1007.8 554.8,1022.0 C550.1,1036.2 542.5,1047.5 531.4,1057.2 C520.3,1066.9 501.8,1073.5 488.0,1080.0 C474.2,1086.5 457.1,1093.3 448.8,1096.4 C440.5,1099.5 439.8,1098.1 438.0,1098.4" stroke="#6a4b7d" stroke-width="2.2"/>
<path d="M503.2,866.0 C506.7,870.2 518.3,881.7 524.0,891.2 C529.7,900.7 532.1,909.7 537.2,923.2 C542.3,936.7 552.4,955.5 554.6,972.0 C556.8,988.5 555.4,1007.9 550.2,1022.0 C545.0,1036.1 535.0,1047.1 523.6,1056.8 C512.2,1066.5 494.7,1073.2 482.0,1080.0 C469.3,1086.8 454.5,1094.3 447.2,1097.6 C439.9,1100.9 439.5,1099.3 438.0,1099.6" stroke="#1a1a1a" stroke-width="2.4"/>
<path d="M498.6,866.0 C501.7,870.1 511.8,881.2 517.0,890.6 C522.2,900.0 524.1,909.0 529.6,922.6 C535.1,936.2 547.1,955.4 549.8,972.0 C552.5,988.6 551.3,1007.9 545.6,1022.0 C539.9,1036.1 527.4,1046.7 515.8,1056.4 C504.2,1066.1 487.7,1072.9 476.0,1080.0 C464.3,1087.1 451.9,1095.3 445.6,1098.8 C439.3,1102.3 439.3,1100.5 438.0,1100.8" stroke="#e4e4e6" stroke-width="3.2"/>
<path d="M494.0,866.0 C496.7,870.0 505.3,880.7 510.0,890.0 C514.7,899.3 516.2,908.3 522.0,922.0 C527.8,935.7 541.8,955.3 545.0,972.0 C548.2,988.7 547.2,1008.0 541.0,1022.0 C534.8,1036.0 519.8,1046.3 508.0,1056.0 C496.2,1065.7 480.7,1072.7 470.0,1080.0 C459.3,1087.3 449.3,1096.3 444.0,1100.0 C438.7,1103.7 439.0,1101.7 438.0,1102.0" stroke="#f2f2f2" stroke-width="3.2"/>
</g>
<path d="M488,846 Q493,836 500,840 Q508,846 503,852 Q495,856 488,846 Z" fill="none" stroke="#8a6a9a" stroke-width="2"/>
<path d="M372,868 Q376,862 384,864 L396,866 Q402,868 400,873" stroke="#9a9a9a" stroke-width="2" fill="none"/>
<path d="M381,866 L380,905 L383,932 M388,866 L388,905 L386,932" stroke="#555" stroke-width="3.6" fill="none"/>
<path d="M381,866 L380,905 L383,932 M388,866 L388,905 L386,932" stroke="#c8c8c8" stroke-width="2" fill="none"/>
<path d="M384,930 L385,945 L397,962 L391,970 L404,978" stroke="#555" stroke-width="4.5" fill="none" stroke-linejoin="round"/>
<path d="M384,930 L385,945 L397,962 L391,970 L404,978" stroke="#c9c9c9" stroke-width="2.8" fill="none" stroke-linejoin="round"/>
<rect x="145" y="843" width="622" height="15" rx="7.5" fill="#58524f" stroke="#111" stroke-width="2"/>
</svg>
</body></html>
